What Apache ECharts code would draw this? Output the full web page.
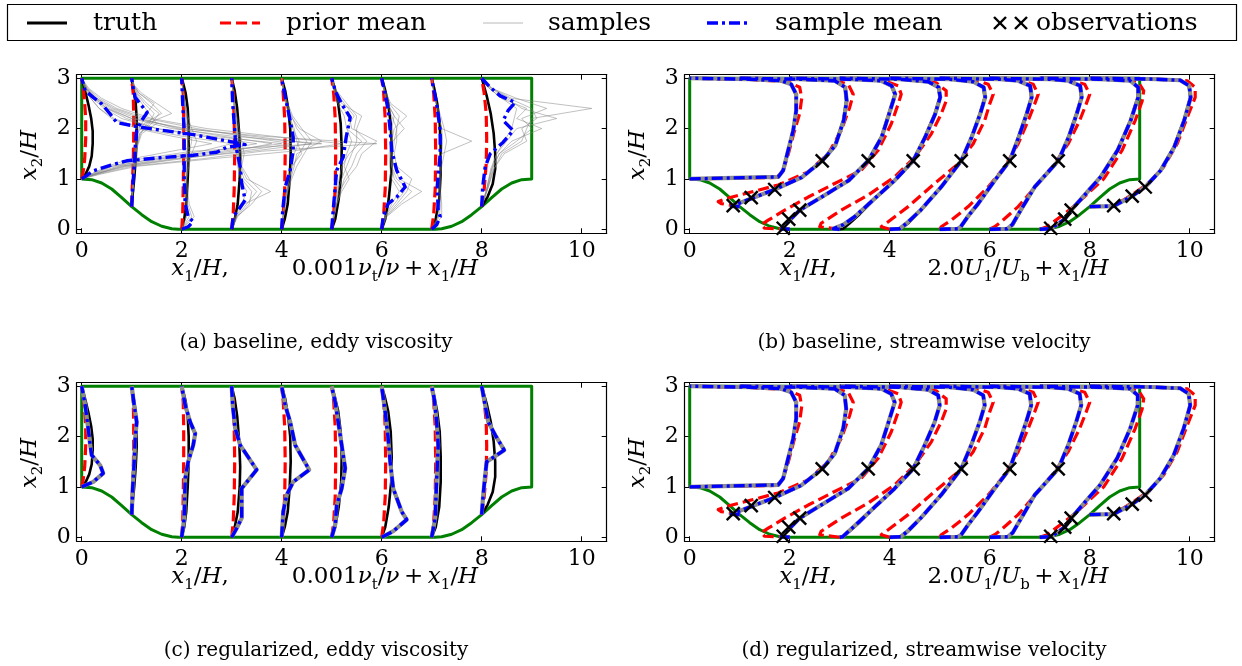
<!DOCTYPE html>
<html><head><meta charset="utf-8">
<script src="https://cdn.jsdelivr.net/npm/echarts@6/dist/echarts.min.js"></script>
<style>html,body{margin:0;padding:0;background:#fff}#c{width:1242px;height:666px}</style>
</head><body><div id="c"></div>
<script>
// ---------------- data ----------------
const stations = [0, 1, 2, 3, 4, 5, 6, 7, 8];
const xTicks = [0, 2, 4, 6, 8, 10];
const yTicks = [0, 1, 2, 3];
// channel geometry (hill + walls)
const geomX = [0,0.2,0.4,0.6,0.8,1.0,1.2,1.4,1.6,1.8,1.93,7.07,7.2,7.4,7.6,7.8,8.0,8.2,8.4,8.6,8.8,9,9,0,0];
const geomY = [1,0.985,0.92,0.8,0.63,0.45,0.29,0.15,0.06,0.01,0,0,0.01,0.06,0.15,0.29,0.45,0.63,0.8,0.92,0.985,1,3,3,1];
const NUT_SCALE = 1;   // values below are already 0.001*nu_t/nu
const VEL_SCALE = 2.0; // plotted offset = 2.0*U1/Ub

// eddy viscosity profiles: [0.001 nu_t/nu, x2/H]
const nutTruth = [
 [[0,1],[0.08,1.1],[0.15,1.25],[0.2,1.45],[0.22,1.7],[0.22,1.95],[0.19,2.2],[0.14,2.45],[0.08,2.7],[0.03,2.9],[0,3]],
 [[0,0.45],[0.02,0.7],[0.05,1.0],[0.08,1.4],[0.1,1.8],[0.1,2.2],[0.08,2.5],[0.04,2.75],[0,3]],
 [[0,0],[0.05,0.2],[0.09,0.5],[0.12,1.0],[0.14,1.5],[0.14,2.0],[0.12,2.4],[0.08,2.7],[0.03,2.9],[0,3]],
 [[0,0],[0.06,0.2],[0.12,0.5],[0.16,1.0],[0.17,1.4],[0.15,1.9],[0.11,2.4],[0.06,2.75],[0,3]],
 [[0,0],[0.06,0.2],[0.12,0.5],[0.16,1.0],[0.18,1.5],[0.17,2.0],[0.13,2.4],[0.07,2.75],[0,3]],
 [[0,0],[0.07,0.2],[0.14,0.6],[0.19,1.1],[0.2,1.6],[0.18,2.1],[0.13,2.5],[0.06,2.8],[0,3]],
 [[0,0],[0.07,0.2],[0.14,0.6],[0.19,1.1],[0.2,1.6],[0.18,2.1],[0.13,2.5],[0.06,2.8],[0,3]],
 [[0,0],[0.08,0.2],[0.15,0.6],[0.18,1.1],[0.18,1.6],[0.16,2.1],[0.11,2.5],[0.05,2.8],[0,3]],
 [[0,0.45],[0.12,0.65],[0.22,0.9],[0.27,1.2],[0.27,1.5],[0.24,1.9],[0.18,2.3],[0.1,2.65],[0.03,2.9],[0,3]]
];
const nutPrior = [
 [[0,1],[0.03,1.15],[0.06,1.4],[0.08,1.8],[0.08,2.2],[0.06,2.5],[0.03,2.8],[0,3]],
 [[0,0.45],[0.01,0.8],[0.03,1.3],[0.04,1.8],[0.04,2.3],[0.03,2.7],[0,3]],
 [[0,0],[0.02,0.3],[0.03,0.8],[0.04,1.5],[0.04,2.2],[0.03,2.7],[0,3]],
 [[0,0],[0.03,0.3],[0.05,0.8],[0.06,1.5],[0.05,2.2],[0.03,2.7],[0,3]],
 [[0,0],[0.03,0.3],[0.06,0.8],[0.07,1.5],[0.06,2.2],[0.03,2.7],[0,3]],
 [[0,0],[0.04,0.3],[0.07,0.8],[0.08,1.5],[0.07,2.2],[0.04,2.7],[0,3]],
 [[0,0],[0.04,0.3],[0.07,0.8],[0.08,1.5],[0.07,2.2],[0.04,2.7],[0,3]],
 [[0,0],[0.04,0.3],[0.07,0.8],[0.08,1.5],[0.07,2.2],[0.04,2.7],[0,3]],
 [[0,0.45],[0.05,0.8],[0.09,1.3],[0.1,1.8],[0.09,2.3],[0.05,2.7],[0,3]]
];
const nutMeanBaseline = [
 [[0,1],[0.23,1.16],[0.57,1.27],[0.9,1.36],[1.57,1.42],[2.23,1.47],[2.7,1.53],[2.9,1.63],[3.27,1.68],[3.03,1.73],[2.23,1.88],[1.57,1.97],[1.1,2.04],[0.7,2.12],[0.57,2.29],[0.4,2.49],[0.23,2.62],[0.07,2.75],[0,3]],
 [[0,0.45],[0.02,0.84],[0.05,1.24],[0.07,1.63],[0.1,1.96],[0.2,2.16],[0.31,2.32],[0.17,2.49],[0.07,2.62],[0.02,2.85],[0,3]],
 [[0,0],[0.13,0.05],[0.23,0.15],[0.13,0.25],[0.07,0.51],[0.05,0.97],[0.05,1.43],[0.05,1.96],[0.02,2.49],[0,3]],
 [[0,0],[0.03,0.25],[0.13,0.38],[0.27,0.58],[0.2,0.91],[0.17,1.24],[0.1,1.57],[0.07,1.83],[0.02,2.49],[0,3]],
 [[0,0],[0.02,0.38],[0.07,0.84],[0.17,1.17],[0.23,1.57],[0.23,1.83],[0.17,2.16],[0.1,2.49],[0.02,2.88],[0,3]],
 [[0,0],[0.03,0.38],[0.07,0.84],[0.1,1.17],[0.23,1.43],[0.29,1.83],[0.37,2.22],[0.2,2.49],[0.07,2.75],[0,3]],
 [[0,0],[0.03,0.25],[0.13,0.51],[0.3,0.64],[0.47,0.84],[0.3,1.17],[0.2,1.57],[0.17,1.96],[0.13,2.36],[0.07,2.68],[0,3]],
 [[0,0],[0.1,0.09],[0.17,0.25],[0.13,0.38],[0.11,0.84],[0.17,1.5],[0.17,1.96],[0.1,2.49],[0.02,2.88],[0,3]],
 [[0,0.45],[0.02,0.84],[0.07,1.24],[0.17,1.5],[0.43,1.73],[0.63,1.96],[0.43,2.16],[0.53,2.36],[0.67,2.52],[0.37,2.65],[0.17,2.82],[0,3]]
];
const nutMeanRegularized = [
 [[0,1],[0.23,1.1],[0.43,1.27],[0.37,1.43],[0.2,1.63],[0.17,1.83],[0.13,2.16],[0.07,2.62],[0,3]],
 [[0,0.45],[0.02,0.97],[0.05,1.5],[0.07,1.96],[0.1,2.29],[0.05,2.62],[0,3]],
 [[0,0],[0.05,0.38],[0.07,1.17],[0.13,1.5],[0.23,1.83],[0.27,2.06],[0.17,2.29],[0.07,2.62],[0,3]],
 [[0,0],[0.1,0.18],[0.2,0.38],[0.2,0.97],[0.5,1.34],[0.17,1.83],[0.07,2.16],[0.02,2.62],[0,3]],
 [[0,0],[0.03,0.51],[0.1,0.84],[0.23,1.1],[0.55,1.34],[0.27,1.83],[0.17,2.29],[0.07,2.62],[0,3]],
 [[0,0],[0.07,0.25],[0.1,0.64],[0.2,0.97],[0.27,1.37],[0.2,1.83],[0.13,2.29],[0.07,2.68],[0,3]],
 [[0,0],[0.23,0.12],[0.5,0.35],[0.4,0.51],[0.23,0.97],[0.17,1.5],[0.13,1.96],[0.07,2.49],[0,3]],
 [[0,0],[0.07,0.38],[0.1,1.17],[0.13,1.83],[0.1,2.29],[0.05,2.75],[0,3]],
 [[0,0.45],[0.03,0.84],[0.07,1.24],[0.1,1.5],[0.45,1.73],[0.27,2.03],[0.13,2.29],[0.07,2.62],[0,3]]
];
// baseline ensemble samples: x2/H grid per station, and 0.001 nu_t/nu of each sample on it
const sampleYGrid = [
 [1.0,1.1,1.25,1.4,1.55,1.7,1.85,2.0,2.2,2.4,2.6,2.8,3.0],
 [0.45,0.8,1.2,1.6,1.9,2.1,2.3,2.5,2.7,2.85,3.0],
 [0,0.25,0.5,0.75,1.0,1.25,1.5,1.75,2.0,2.25,2.5,2.75,3.0],
 [0,0.25,0.5,0.75,1.0,1.25,1.5,1.75,2.0,2.25,2.5,2.75,3.0],
 [0,0.25,0.5,0.75,1.0,1.25,1.5,1.75,2.0,2.25,2.5,2.75,3.0],
 [0,0.25,0.5,0.75,1.0,1.25,1.5,1.75,2.0,2.25,2.5,2.75,3.0],
 [0,0.25,0.5,0.75,1.0,1.25,1.5,1.75,2.0,2.25,2.5,2.75,3.0],
 [0,0.25,0.5,0.75,1.0,1.25,1.5,1.75,2.0,2.25,2.5,2.75,3.0],
 [0.45,0.8,1.2,1.5,1.75,2.0,2.2,2.4,2.6,2.8,3.0]
];
const nutSamples = [
 [[0,0.3,0.8,1.6,2.6,3.5,2.4,1.5,0.8,0.45,0.22,0.08,0],
  [0,0.25,0.6,1.2,2.2,4.8,3.0,1.8,1.0,0.55,0.28,0.1,0],
  [0,0.35,1.0,2.4,3.6,5.9,3.6,2.0,1.1,0.6,0.3,0.1,0],
  [0,0.2,0.5,1.0,1.8,2.6,1.8,1.1,0.6,0.35,0.18,0.06,0],
  [0,0.3,0.9,2.0,3.2,4.2,3.2,2.3,1.3,0.7,0.35,0.12,0],
  [0,0.25,0.7,1.4,2.4,3.0,2.0,1.2,0.65,0.35,0.18,0.06,0],
  [0,0.4,1.1,2.6,4.2,5.2,3.8,2.5,1.4,0.8,0.4,0.14,0],
  [0,0.2,0.6,1.5,2.8,4.0,2.6,1.5,0.9,0.5,0.26,0.09,0],
  [0,0.3,0.75,1.8,3.0,3.8,2.8,1.9,1.2,0.65,0.3,0.1,0],
  [0,0.28,0.85,1.9,3.4,4.6,3.4,2.1,1.0,0.5,0.25,0.08,0]],
 [[0,0.02,0.05,0.08,0.15,0.35,0.45,0.25,0.1,0.04,0],
  [0,0.02,0.04,0.07,0.12,0.25,0.6,0.4,0.15,0.05,0],
  [0,0.03,0.06,0.1,0.2,0.5,0.35,0.2,0.08,0.03,0],
  [0,0.02,0.05,0.09,0.18,0.3,0.8,0.5,0.2,0.06,0],
  [0,0.02,0.04,0.07,0.1,0.2,0.3,0.45,0.15,0.05,0],
  [0,0.03,0.06,0.1,0.16,0.4,0.55,0.3,0.12,0.04,0]],
 [[0,0.15,0.1,0.08,0.08,0.1,0.12,0.15,0.12,0.1,0.07,0.03,0],
  [0,0.2,0.12,0.1,0.1,0.12,0.15,0.2,0.15,0.1,0.06,0.03,0],
  [0,0.1,0.08,0.06,0.06,0.08,0.1,0.12,0.1,0.08,0.05,0.02,0],
  [0,0.25,0.15,0.12,0.1,0.14,0.2,0.3,0.2,0.12,0.07,0.03,0]],
 [[0,0.1,0.3,0.5,0.25,0.15,0.15,0.12,0.1,0.08,0.06,0.03,0],
  [0,0.08,0.25,0.78,0.3,0.18,0.2,0.15,0.12,0.08,0.05,0.02,0],
  [0,0.12,0.35,0.4,0.2,0.14,0.12,0.1,0.08,0.06,0.04,0.02,0],
  [0,0.1,0.4,0.6,0.35,0.2,0.25,0.2,0.15,0.1,0.06,0.03,0],
  [0,0.06,0.2,0.3,0.18,0.12,0.1,0.1,0.08,0.06,0.04,0.02,0]],
 [[0,0.03,0.06,0.1,0.15,0.22,0.35,0.5,0.3,0.2,0.1,0.05,0],
  [0,0.03,0.07,0.12,0.18,0.25,0.3,0.8,0.35,0.18,0.1,0.04,0],
  [0,0.02,0.05,0.1,0.15,0.2,0.4,0.3,0.25,0.15,0.08,0.03,0],
  [0,0.03,0.06,0.11,0.2,0.3,0.45,0.6,0.4,0.22,0.12,0.05,0],
  [0,0.02,0.05,0.09,0.14,0.2,0.25,0.35,0.22,0.15,0.08,0.03,0]],
 [[0,0.04,0.08,0.15,0.3,0.5,0.6,0.9,0.4,0.35,0.15,0.06,0],
  [0,0.03,0.07,0.12,0.2,0.3,0.4,0.5,0.5,0.6,0.2,0.07,0],
  [0,0.04,0.1,0.2,0.35,0.25,0.3,0.4,0.3,0.45,0.25,0.08,0],
  [0,0.03,0.06,0.1,0.15,0.2,0.35,0.6,0.3,0.25,0.12,0.05,0],
  [0,0.05,0.1,0.18,0.25,0.4,0.5,0.7,0.45,0.5,0.3,0.1,0]],
 [[0,0.08,0.35,0.6,0.3,0.2,0.22,0.25,0.3,0.35,0.15,0.06,0],
  [0,0.1,0.4,0.8,0.35,0.25,0.2,0.22,0.45,0.25,0.12,0.05,0],
  [0,0.06,0.25,0.45,0.25,0.2,0.18,0.2,0.25,0.5,0.18,0.07,0],
  [0,0.08,0.3,0.5,0.6,0.3,0.25,0.3,0.3,0.2,0.1,0.04,0],
  [0,0.07,0.2,0.35,0.2,0.16,0.15,0.18,0.2,0.25,0.12,0.05,0]],
 [[0,0.15,0.18,0.16,0.16,0.18,0.2,0.8,0.2,0.15,0.1,0.04,0],
  [0,0.2,0.2,0.18,0.18,0.2,0.25,0.3,0.25,0.18,0.1,0.04,0],
  [0,0.12,0.15,0.14,0.15,0.16,0.2,0.22,0.2,0.14,0.08,0.03,0]],
 [[0,0.1,0.2,0.35,0.6,1.2,0.7,0.9,0.4,0.15,0],
  [0,0.12,0.25,0.4,0.8,0.9,1.0,2.2,0.6,0.2,0],
  [0,0.1,0.2,0.3,0.5,0.7,1.5,0.8,0.5,0.18,0],
  [0,0.12,0.22,0.35,0.7,1.0,0.8,1.3,0.7,0.2,0],
  [0,0.1,0.18,0.3,0.45,0.6,0.65,0.7,0.4,0.15,0],
  [0,0.11,0.24,0.45,0.9,0.8,1.1,1.0,0.55,0.2,0]]
];

// streamwise velocity profiles: [U1/Ub, x2/H]
const velTruth = [
 [[0,1],[0.885,1.04],[0.935,1.17],[0.985,1.57],[1.035,1.96],[1.065,2.36],[1.065,2.68],[1.015,2.88],[0.915,2.95],[0.6,2.98],[0,3]],
 [[0,0.45],[-0.085,0.46],[0.115,0.61],[0.35,0.79],[0.615,1.03],[0.825,1.36],[0.95,1.66],[1.035,2.16],[1.065,2.55],[1.05,2.82],[0.95,2.95],[0.6,2.98],[0,3]],
 [[0,0],[-0.085,0.01],[-0.05,0.09],[0.01,0.2],[0.1,0.38],[0.315,0.64],[0.585,0.97],[0.785,1.36],[0.915,1.83],[1.0,2.36],[1.05,2.68],[1.015,2.85],[0.915,2.95],[0.6,2.98],[0,3]],
 [[0,0],[0.035,0.01],[0.1,0.12],[0.2,0.3],[0.35,0.6],[0.55,0.97],[0.735,1.36],[0.85,1.83],[0.95,2.29],[1.0,2.62],[0.985,2.82],[0.885,2.93],[0.6,2.98],[0,3]],
 [[0,0],[0.115,0.01],[0.185,0.12],[0.315,0.38],[0.515,0.84],[0.715,1.36],[0.815,1.83],[0.9,2.29],[0.95,2.62],[0.935,2.82],[0.835,2.93],[0.6,2.98],[0,3]],
 [[0,0],[0.185,0.01],[0.215,0.05],[0.285,0.25],[0.385,0.51],[0.55,0.97],[0.7,1.36],[0.785,1.83],[0.865,2.29],[0.915,2.62],[0.9,2.85],[0.785,2.95],[0.6,2.98],[0,3]],
 [[0,0],[0.185,0.01],[0.235,0.09],[0.315,0.38],[0.45,0.84],[0.685,1.36],[0.785,1.83],[0.865,2.29],[0.915,2.62],[0.9,2.85],[0.785,2.95],[0.6,2.98],[0,3]],
 [[0,0],[0.115,0.01],[0.25,0.2],[0.315,0.38],[0.475,0.75],[0.605,1.04],[0.775,1.57],[0.905,2.16],[0.98,2.62],[0.98,2.82],[0.905,2.95],[0.6,2.98],[0,3]],
 [[0,0.45],[0.24,0.46],[0.425,0.66],[0.555,0.84],[0.705,1.17],[0.84,1.63],[0.94,2.16],[1.005,2.62],[0.99,2.85],[0.905,2.96],[0.6,2.985],[0,3]]
];
const velPrior = [
 [[0,1],[0.87,1.03],[0.93,1.15],[0.98,1.45],[1.04,1.9],[1.1,2.3],[1.12,2.6],[1.1,2.82],[0.98,2.93],[0.6,2.975],[0,3]],
 [[0,0.45],[-0.185,0.51],[-0.215,0.55],[-0.135,0.61],[0.115,0.74],[0.385,0.88],[0.685,1.14],[0.885,1.5],[1.015,1.96],[1.1,2.42],[1.135,2.68],[1.085,2.88],[0.95,2.96],[0.6,2.98],[0,3]],
 [[0,0],[-0.25,0.02],[-0.285,0.09],[-0.215,0.18],[-0.05,0.38],[0.185,0.64],[0.45,0.91],[0.715,1.17],[0.885,1.57],[1.015,2.09],[1.085,2.49],[1.115,2.68],[1.085,2.85],[0.95,2.95],[0.6,2.98],[0,3]],
 [[0,0],[-0.2,0.05],[-0.185,0.12],[0.015,0.38],[0.285,0.68],[0.55,1.04],[0.75,1.43],[0.915,1.89],[1.015,2.29],[1.065,2.55],[1.065,2.75],[0.965,2.91],[0.65,2.975],[0,3]],
 [[0,0],[-0.085,0.05],[-0.015,0.15],[0.185,0.45],[0.45,0.91],[0.685,1.3],[0.835,1.7],[0.95,2.16],[1.0,2.49],[1.035,2.68],[0.985,2.88],[0.885,2.95],[0.6,2.98],[0,3]],
 [[0,0],[0.015,0.05],[0.115,0.18],[0.285,0.45],[0.485,0.84],[0.65,1.24],[0.785,1.7],[0.885,2.16],[0.95,2.49],[0.985,2.68],[0.935,2.88],[0.815,2.95],[0.6,2.98],[0,3]],
 [[0,0],[0.05,0.05],[0.115,0.15],[0.285,0.45],[0.485,0.91],[0.65,1.3],[0.785,1.7],[0.9,2.16],[0.965,2.49],[1.0,2.68],[0.95,2.88],[0.815,2.95],[0.6,2.98],[0,3]],
 [[0,0],[0.075,0.05],[0.34,0.45],[0.64,1.0],[0.825,1.57],[0.955,2.16],[1.025,2.55],[1.04,2.75],[0.99,2.91],[0.875,2.97],[0.6,2.985],[0,3]],
 [[0,0.45],[0.24,0.46],[0.44,0.71],[0.59,0.91],[0.74,1.24],[0.875,1.7],[0.975,2.22],[1.055,2.62],[1.055,2.82],[0.975,2.95],[0.6,2.985],[0,3]]
];
const velMeanBaseline = [
 [[0,1],[0.885,1.04],[0.935,1.17],[0.985,1.57],[1.035,1.96],[1.065,2.36],[1.065,2.68],[1.015,2.88],[0.915,2.95],[0.6,2.98],[0,3]],
 [[0,0.45],[-0.08,0.46],[0.115,0.61],[0.35,0.79],[0.62,1.03],[0.825,1.36],[0.955,1.66],[1.04,2.16],[1.07,2.55],[1.055,2.82],[0.95,2.95],[0.6,2.98],[0,3]],
 [[0,0],[-0.08,0.01],[-0.05,0.09],[0.01,0.2],[0.1,0.38],[0.32,0.64],[0.59,0.97],[0.785,1.36],[0.92,1.83],[1.005,2.36],[1.055,2.68],[1.02,2.85],[0.915,2.95],[0.6,2.98],[0,3]],
 [[0,0],[-0.065,0.01],[0.035,0.09],[0.15,0.25],[0.35,0.61],[0.55,0.97],[0.735,1.36],[0.855,1.83],[0.955,2.29],[1.005,2.62],[0.99,2.82],[0.885,2.93],[0.6,2.98],[0,3]],
 [[0,0],[0.1,0.01],[0.17,0.12],[0.31,0.38],[0.515,0.84],[0.715,1.36],[0.82,1.83],[0.905,2.29],[0.955,2.62],[0.94,2.82],[0.835,2.93],[0.6,2.98],[0,3]],
 [[0,0],[0.18,0.01],[0.21,0.05],[0.28,0.25],[0.385,0.51],[0.55,0.97],[0.7,1.36],[0.79,1.83],[0.87,2.29],[0.92,2.62],[0.905,2.85],[0.785,2.95],[0.6,2.98],[0,3]],
 [[0,0],[0.175,0.01],[0.225,0.09],[0.31,0.38],[0.45,0.84],[0.685,1.36],[0.79,1.83],[0.87,2.29],[0.92,2.62],[0.905,2.85],[0.785,2.95],[0.6,2.98],[0,3]],
 [[0,0],[0.11,0.01],[0.25,0.2],[0.315,0.38],[0.48,0.75],[0.61,1.04],[0.78,1.57],[0.91,2.16],[0.985,2.62],[0.985,2.82],[0.905,2.95],[0.6,2.98],[0,3]],
 [[0,0.45],[0.24,0.46],[0.425,0.66],[0.555,0.84],[0.71,1.17],[0.845,1.63],[0.945,2.16],[1.01,2.62],[0.995,2.85],[0.905,2.96],[0.6,2.985],[0,3]]
];
const velMeanRegularized = [
 [[0,1],[0.885,1.04],[0.935,1.17],[0.985,1.57],[1.035,1.96],[1.065,2.36],[1.065,2.68],[1.015,2.88],[0.915,2.95],[0.6,2.98],[0,3]],
 [[0,0.45],[-0.085,0.46],[0.115,0.61],[0.35,0.79],[0.615,1.03],[0.825,1.36],[0.95,1.66],[1.035,2.16],[1.065,2.55],[1.05,2.82],[0.95,2.95],[0.6,2.98],[0,3]],
 [[0,0],[-0.085,0.01],[-0.05,0.09],[0.01,0.2],[0.1,0.38],[0.315,0.64],[0.585,0.97],[0.785,1.36],[0.915,1.83],[1.0,2.36],[1.05,2.68],[1.015,2.85],[0.915,2.95],[0.6,2.98],[0,3]],
 [[0,0],[0.03,0.01],[0.09,0.12],[0.19,0.3],[0.35,0.6],[0.55,0.97],[0.735,1.36],[0.85,1.83],[0.95,2.29],[1.0,2.62],[0.985,2.82],[0.885,2.93],[0.6,2.98],[0,3]],
 [[0,0],[0.11,0.01],[0.18,0.12],[0.31,0.38],[0.515,0.84],[0.715,1.36],[0.815,1.83],[0.9,2.29],[0.95,2.62],[0.935,2.82],[0.835,2.93],[0.6,2.98],[0,3]],
 [[0,0],[0.18,0.01],[0.215,0.05],[0.285,0.25],[0.385,0.51],[0.55,0.97],[0.7,1.36],[0.785,1.83],[0.865,2.29],[0.915,2.62],[0.9,2.85],[0.785,2.95],[0.6,2.98],[0,3]],
 [[0,0],[0.18,0.01],[0.23,0.09],[0.315,0.38],[0.45,0.84],[0.685,1.36],[0.785,1.83],[0.865,2.29],[0.915,2.62],[0.9,2.85],[0.785,2.95],[0.6,2.98],[0,3]],
 [[0,0],[0.115,0.01],[0.25,0.2],[0.315,0.38],[0.475,0.75],[0.605,1.04],[0.775,1.57],[0.905,2.16],[0.98,2.62],[0.98,2.82],[0.905,2.95],[0.6,2.98],[0,3]],
 [[0,0.45],[0.24,0.46],[0.425,0.66],[0.555,0.84],[0.705,1.17],[0.84,1.63],[0.94,2.16],[1.005,2.62],[0.99,2.85],[0.905,2.96],[0.6,2.985],[0,3]]
];
// observations: station index, U1/Ub, x2/H
const obsStation = [1,1,1,1,2,2,2,2,3,4,5,6,7,7,7,8,8,8];
const obsU =       [-0.065,0.115,0.35,0.825,-0.065,-0.01,0.1,0.785,0.735,0.715,0.7,0.685,0.11,0.25,0.315,0.24,0.425,0.555];
const obsY =       [0.47,0.63,0.79,1.36,0.02,0.2,0.38,1.36,1.36,1.36,1.36,1.36,0.02,0.2,0.38,0.47,0.66,0.84];

const captions = ['(a) baseline, eddy viscosity','(b) baseline, streamwise velocity','(c) regularized, eddy viscosity','(d) regularized, streamwise velocity'];

// ---------------- layout / style ----------------
const SERIF = '"DejaVu Serif", "Liberation Serif", serif';
const PW = 530, PH = 158.6;
const panels = [
  {left: 76.7, top: 74.7, kind: 'nut', mean: nutMeanBaseline, samples: true},
  {left: 684.7, top: 74.7, kind: 'vel', mean: velMeanBaseline},
  {left: 76.7, top: 382.7, kind: 'nut', mean: nutMeanRegularized, samples: false},
  {left: 684.7, top: 382.7, kind: 'vel', mean: velMeanRegularized}
];
const XMIN = -0.1, XMAX = 10.5, YMIN = -0.08, YMAX = 3.07;
const C_GREEN = '#008000', C_RED = '#ff0000', C_BLUE = '#0000ff';
const DASH_RED = [11, 5], DASH_BLUE = [11, 4, 3, 4];

function prof(st, pts, scale) { return pts.map(p => [st + scale * p[0], p[1]]); }

const grids = [], xAxes = [], yAxes = [], series = [];
panels.forEach((p, i) => {
  grids.push({left: p.left, top: p.top, width: PW, height: PH, containLabel: false});
  const tickStyle = {color: '#000', width: 1};
  const lab = {fontFamily: SERIF, fontSize: 22, color: '#000'};
  xAxes.push({type: 'value', gridIndex: i, min: XMIN, max: XMAX, position: 'bottom',
    axisLine: {show: true, onZero: false, lineStyle: {color: '#000', width: 1.2}},
    axisTick: {show: true, inside: true, length: 5, customValues: xTicks, lineStyle: tickStyle},
    axisLabel: Object.assign({show: true, customValues: xTicks, margin: 7}, lab),
    splitLine: {show: false}});
  xAxes.push({type: 'value', gridIndex: i, min: XMIN, max: XMAX, position: 'top',
    axisLine: {show: true, onZero: false, lineStyle: {color: '#000', width: 1.2}},
    axisTick: {show: true, inside: true, length: 5, customValues: xTicks, lineStyle: tickStyle},
    axisLabel: {show: false}, splitLine: {show: false}});
  yAxes.push({type: 'value', gridIndex: i, min: YMIN, max: YMAX, position: 'left',
    axisLine: {show: true, onZero: false, lineStyle: {color: '#000', width: 1.2}},
    axisTick: {show: true, inside: true, length: 5, customValues: yTicks, lineStyle: tickStyle},
    axisLabel: Object.assign({show: true, customValues: yTicks, margin: 6}, lab),
    splitLine: {show: false}});
  yAxes.push({type: 'value', gridIndex: i, min: YMIN, max: YMAX, position: 'right',
    axisLine: {show: true, onZero: false, lineStyle: {color: '#000', width: 1.2}},
    axisTick: {show: true, inside: true, length: 5, customValues: yTicks, lineStyle: tickStyle},
    axisLabel: {show: false}, splitLine: {show: false}});
  const xi = 2 * i, yi = 2 * i;
  const line = (data, ls, z) => series.push({type: 'line', xAxisIndex: xi, yAxisIndex: yi, data: data,
    showSymbol: false, symbol: 'none', silent: true, animation: false, z: z || 2,
    lineStyle: Object.assign({cap: 'butt', join: 'round'}, ls)});
  // geometry
  line(geomX.map((x, k) => [x, geomY[k]]), {color: C_GREEN, width: 3});
  const isNut = p.kind === 'nut';
  const scale = isNut ? NUT_SCALE : VEL_SCALE;
  const truth = isNut ? nutTruth : velTruth;
  const prior = isNut ? nutPrior : velPrior;
  stations.forEach((st, k) => line(prof(st, truth[k], scale), {color: '#000', width: 2.6}));
  stations.forEach((st, k) => line(prof(st, prior[k], scale), {color: C_RED, width: 3.2, type: DASH_RED}));
  if (isNut && p.samples) {
    stations.forEach((st, k) => nutSamples[k].forEach(s =>
      line(s.map((v, j) => [st + scale * v, sampleYGrid[k][j]]), {color: 'rgba(130,130,130,0.5)', width: 1})));
  } else {
    // collapsed ensemble: samples coincide with their mean
    stations.forEach((st, k) => line(prof(st, p.mean[k], scale), {color: '#8c8c8c', width: 4.2}));
  }
  stations.forEach((st, k) => line(prof(st, p.mean[k], scale), {color: C_BLUE, width: 3.4, type: DASH_BLUE}));
  if (!isNut) {
    series.push({type: 'custom', xAxisIndex: xi, yAxisIndex: yi, silent: true, animation: false, z: 3,
      data: obsStation.map((s, k) => [s + VEL_SCALE * obsU[k], obsY[k]]),
      encode: {x: 0, y: 1}, clip: false,
      renderItem: (params, api) => {
        const c = api.coord([api.value(0), api.value(1)]); const r = 6.5;
        return {type: 'group', children: [
          {type: 'line', shape: {x1: c[0] - r, y1: c[1] - r, x2: c[0] + r, y2: c[1] + r}, style: {stroke: '#000', lineWidth: 2.4}},
          {type: 'line', shape: {x1: c[0] - r, y1: c[1] + r, x2: c[0] + r, y2: c[1] - r}, style: {stroke: '#000', lineWidth: 2.4}}]};
      }});
  }
});

// ---------------- text (labels, captions, legend) ----------------
const F = 23;
const rich = {
  i: {fontFamily: SERIF, fontStyle: 'italic', fontSize: F, lineHeight: 32, verticalAlign: 'middle'},
  r: {fontFamily: SERIF, fontSize: F, lineHeight: 32, verticalAlign: 'middle'},
  s: {fontFamily: SERIF, fontSize: 15, lineHeight: 32, verticalAlign: 'bottom'}
};
function rt(text, x, y, rot) {
  return {type: 'text', x: x, y: y, rotation: rot || 0, silent: true,
    style: {text: text, rich: rich, align: 'center', verticalAlign: 'middle', textAlign: 'center', textVerticalAlign: 'middle', fill: '#000'}};
}
function pt(text, x, y, size, align) {
  return {type: 'text', x: x, y: y, silent: true,
    style: {text: text, font: size + 'px ' + SERIF, fill: '#000', align: align || 'center', textAlign: align || 'center', verticalAlign: 'middle', textVerticalAlign: 'middle'}};
}
const g = [];
const xl1 = '{i|x}{s|1}{r|/}{i|H}{r|,}';
const xlNut = '{r|0.001}{i|ν}{s|t}{r|/}{i|ν}{r|\u2009+\u2009}{i|x}{s|1}{r|/}{i|H}';
const xlVel = '{r|2.0}{i|U}{s|1}{r|/}{i|U}{s|b}{r|\u2009+\u2009}{i|x}{s|1}{r|/}{i|H}';
const yl = '{i|x}{s|2}{r|/}{i|H}';
[[0, 0], [1, 608], [2, 0], [3, 608]].forEach(([i, dx]) => {
  const dy = i >= 2 ? 308 : 0;
  g.push(rt(xl1, 200 + dx, 269 + dy));
  g.push(rt(i % 2 === 0 ? xlNut : xlVel, (i % 2 === 0 ? 385 : 410) + dx, 269 + dy));
  g.push(rt(yl, 30 + dx, 155 + dy, Math.PI / 2));
  g.push(pt(captions[i], (i % 2 === 0 ? 316 : 924), 343 + dy, 20));
});
// legend
g.push({type: 'rect', silent: true, shape: {x: 7.5, y: 4.5, width: 1229, height: 36}, style: {fill: '#fff', stroke: '#000', lineWidth: 1.2}});
const LY = 23;
const LF = 25;
g.push({type: 'line', silent: true, shape: {x1: 27, y1: LY, x2: 67, y2: LY}, style: {stroke: '#000', lineWidth: 3}});
g.push(pt('truth', 93, LY, LF, 'left'));
g.push({type: 'line', silent: true, shape: {x1: 220, y1: LY, x2: 260, y2: LY}, style: {stroke: C_RED, lineWidth: 3.2, lineDash: DASH_RED}});
g.push(pt('prior mean', 286, LY, LF, 'left'));
g.push({type: 'line', silent: true, shape: {x1: 483, y1: LY, x2: 523, y2: LY}, style: {stroke: '#d0d0d0', lineWidth: 1.5}});
g.push(pt('samples', 548, LY, LF, 'left'));
g.push({type: 'line', silent: true, shape: {x1: 707, y1: LY, x2: 747, y2: LY}, style: {stroke: C_BLUE, lineWidth: 3.4, lineDash: DASH_BLUE}});
g.push(pt('sample mean', 775, LY, LF, 'left'));
[1000, 1021].forEach(cx => {
  const r = 6;
  g.push({type: 'line', silent: true, shape: {x1: cx - r, y1: LY - r, x2: cx + r, y2: LY + r}, style: {stroke: '#000', lineWidth: 2.4}});
  g.push({type: 'line', silent: true, shape: {x1: cx - r, y1: LY + r, x2: cx + r, y2: LY - r}, style: {stroke: '#000', lineWidth: 2.4}});
});
g.push(pt('observations', 1036, LY, LF, 'left'));

const chart = echarts.init(document.getElementById('c'), null, {renderer: 'canvas'});
chart.setOption({animation: false, backgroundColor: '#fff', grid: grids, xAxis: xAxes, yAxis: yAxes, series: series, graphic: {elements: g}});
</script></body></html>
